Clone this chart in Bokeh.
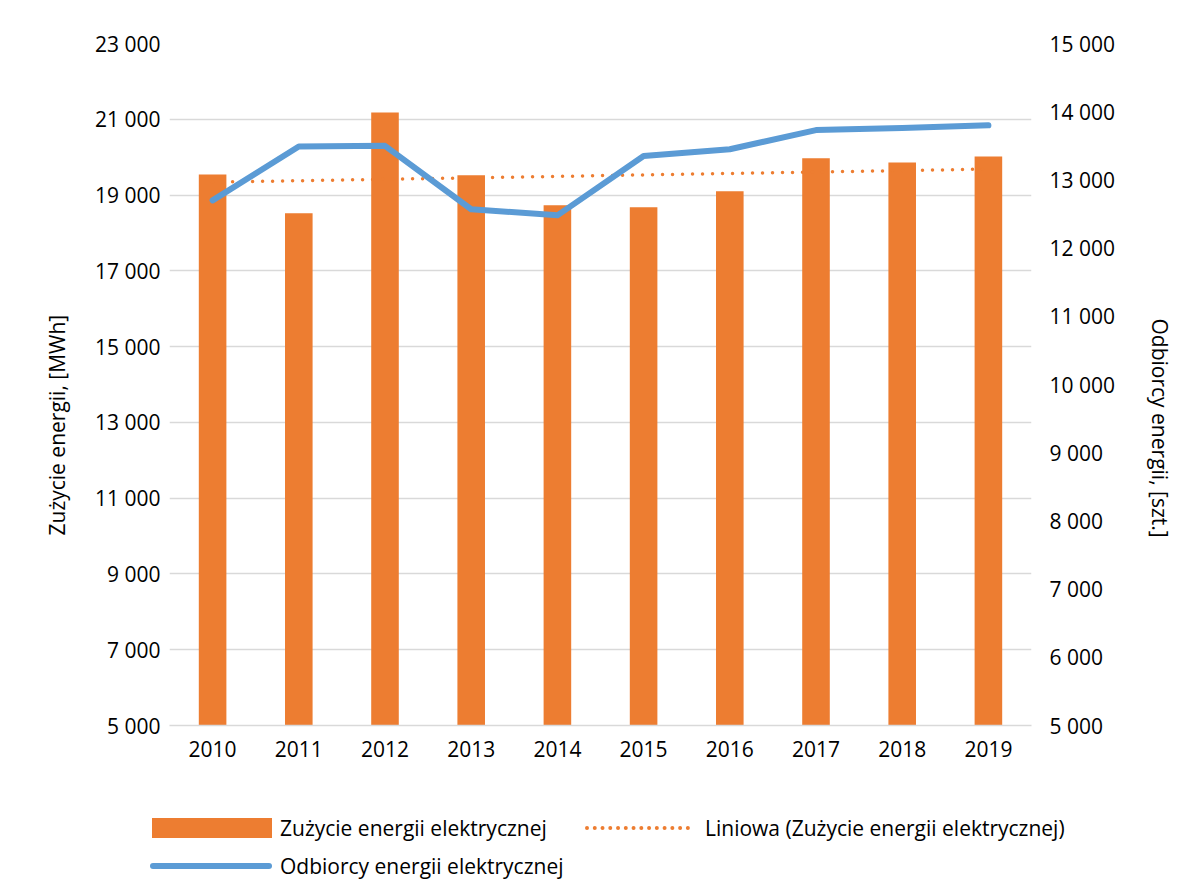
import numpy as np
from bokeh.plotting import figure
from bokeh.layouts import column
from bokeh.models import Range1d, LinearAxis, FactorRange, FixedTicker, Title, Div
from bokeh.embed import file_html
from bokeh.resources import INLINE

years = ["2010", "2011", "2012", "2013", "2014", "2015", "2016", "2017", "2018", "2019"]
consumption = [19540, 18520, 21180, 19520, 18730, 18680, 19100, 19970, 19860, 20020]
customers = [12700, 13490, 13500, 12570, 12480, 13350, 13450, 13730, 13760, 13800]
left_ticks = list(range(5000, 23001, 2000))
right_ticks = list(range(5000, 15001, 1000))
series_names = ["Zużycie energii elektrycznej",
                "Liniowa (Zużycie energii elektrycznej)",
                "Odbiorcy energii elektrycznej"]

idx = np.arange(len(years))
slope, intercept = np.polyfit(idx, consumption, 1)
trend = list(slope * idx + intercept)

FONT = "Open Sans"
FS = "21px"
ORANGE = "#ED7D31"
BLUE = "#5B9BD5"
GRID = "#D9D9D9"

p = figure(width=1203, height=800, x_range=FactorRange(*years), y_range=Range1d(5000, 23000),
           output_backend="svg", toolbar_location=None,
           min_border_left=169, min_border_right=172, min_border_top=43, min_border_bottom=75)
p.extra_y_ranges = {"right": Range1d(5000, 15000)}
p.outline_line_color = None
p.background_fill_color = "white"
p.border_fill_color = "white"

bars = p.vbar(x=years, top=consumption, bottom=5000, width=0.32, fill_color=ORANGE, line_color=None)
tl = p.line(x=years, y=trend, line_color=ORANGE, line_width=3.5, line_dash="0 10", line_cap="round")
cl = p.line(x=years, y=customers, line_color=BLUE, line_width=6, line_join="round", line_cap="round",
            y_range_name="right")

ya = p.yaxis[0]
ya.ticker = FixedTicker(ticks=left_ticks)
ya.major_label_overrides = {t: f"{t:,}".replace(",", " ") for t in left_ticks}

ra = LinearAxis(y_range_name="right", ticker=FixedTicker(ticks=right_ticks))
ra.major_label_overrides = {t: f"{t:,}".replace(",", " ") for t in right_ticks}
p.add_layout(ra, "right")

for ax in [ya, ra]:
    ax.axis_line_color = None
    ax.major_tick_line_color = None
    ax.minor_tick_line_color = None
    ax.major_tick_out = 0
    ax.major_tick_in = 0
    ax.minor_tick_out = 0
    ax.major_label_text_font = FONT
    ax.major_label_text_font_size = FS
    ax.major_label_text_color = "black"
ya.major_label_standoff = 9
ra.major_label_standoff = 18

lt = Title(text="Zużycie energii, [MWh]", align="left", offset=190, standoff=44,
           text_font=FONT, text_font_size=FS, text_font_style="normal", text_color="black")
p.add_layout(lt, "left")
rt = Title(text="Odbiorcy energii, [szt.]", align="left", offset=275, standoff=56,
           text_font=FONT, text_font_size=FS, text_font_style="normal", text_color="black")
p.add_layout(rt, "right")

xa = p.xaxis[0]
xa.axis_line_color = GRID
xa.axis_line_width = 1.5
xa.major_tick_line_color = None
xa.minor_tick_line_color = None
xa.major_tick_out = 0
xa.major_tick_in = 0
xa.major_label_text_font = FONT
xa.major_label_text_font_size = FS
xa.major_label_text_color = "black"
xa.major_label_standoff = 15

p.xgrid.grid_line_color = None
p.ygrid.ticker = FixedTicker(ticks=left_ticks)
p.ygrid.grid_line_color = GRID
p.ygrid.grid_line_width = 1.5

# legend strip below the chart
lab = "position:absolute;white-space:nowrap;line-height:30px;"
legend_html = f"""
<div style="position:relative;width:1203px;height:80px;font-family:'{FONT}';font-size:{FS};color:black;">
  <div style="position:absolute;left:152px;top:18px;width:120px;height:20px;background:{ORANGE};"></div>
  <span style="{lab}left:280px;top:13px;">{series_names[0]}</span>
  <div style="position:absolute;left:585px;top:26px;width:105px;height:0;border-top:4px dotted {ORANGE};"></div>
  <span style="{lab}left:705px;top:13px;">{series_names[1]}</span>
  <div style="position:absolute;left:150px;top:63px;width:122px;height:6px;border-radius:3px;background:{BLUE};"></div>
  <span style="{lab}left:280px;top:51px;">{series_names[2]}</span>
</div>
"""
leg = Div(text=legend_html, width=1203, height=80, margin=(0, 0, 0, 0))

open("out.html", "w").write(file_html(column(p, leg, spacing=0), INLINE))
